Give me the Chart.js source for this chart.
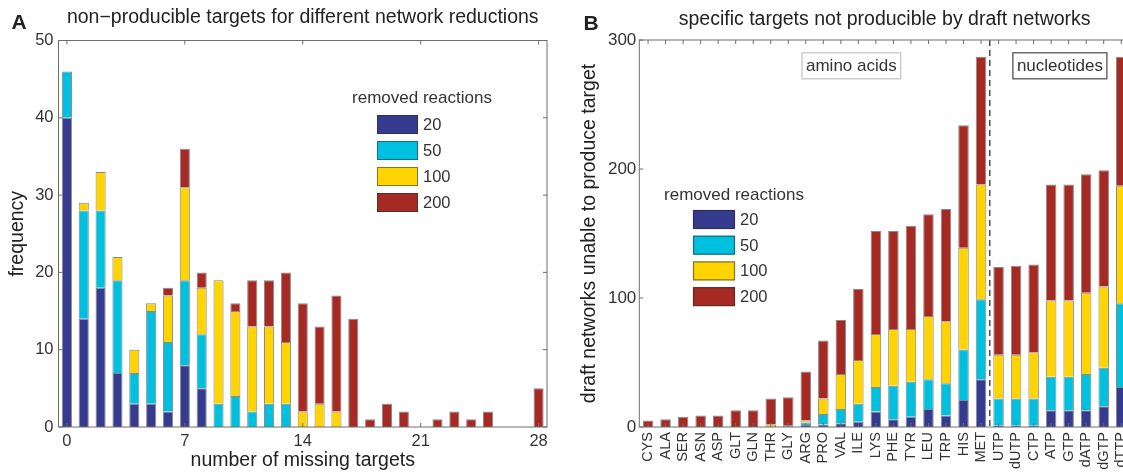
<!DOCTYPE html>
<html>
<head>
<meta charset="utf-8">
<script src="https://cdn.jsdelivr.net/npm/chart.js@4"></script>
<style>
  body { margin: 0; width: 1123px; height: 472px; overflow: hidden; background: #fff; position: relative; }
  canvas { position: absolute; top: 0; }
  #chart_a { left: 0; }
  #chart_b { left: 560px; }
</style>
</head>
<body>
<canvas id="chart_a" width="560" height="472"></canvas>
<canvas id="chart_b" width="590" height="472"></canvas>
<script>
// legend groups (number of removed reactions) and their colours
const removedReactions = ['20', '50', '100', '200'];
const groupColors = ['#353b8f', '#00c0e0', '#ffd400', '#a52a23'];

// panel A: histogram of number of missing targets
const missingTargets = ['0', '1', '2', '3', '4', '5', '6', '7', '8', '9', '10', '11', '12', '13', '14',
  '15', '16', '17', '18', '19', '20', '21', '22', '23', '24', '25', '26', '27', '28'];
const freq20 = [40, 14, 18, 7, 3, 3, 2, 8, 5, 0, 0, 0, 0, 0, 0, 0, 0, 0, 0, 0, 0, 0, 0, 0, 0, 0, 0, 0, 0];
const freq50 = [6, 14, 10, 12, 4, 12, 9, 11, 7, 3, 4, 2, 3, 3, 0, 0, 0, 0, 0, 0, 0, 0, 0, 0, 0, 0, 0, 0, 0];
const freq100 = [0, 1, 5, 3, 3, 1, 6, 12, 6, 16, 11, 11, 10, 8, 2, 3, 2, 0, 0, 0, 0, 0, 0, 0, 0, 0, 0, 0, 0];
const freq200 = [0, 0, 0, 0, 0, 0, 1, 5, 2, 0, 1, 6, 6, 9, 14, 10, 15, 14, 1, 3, 2, 0, 1, 2, 1, 2, 0, 0, 5];
const shownMissingTicks = ['0', '7', '14', '21', '28'];

// panel B: specific targets not producible
const targets = ['CYS', 'ALA', 'SER', 'ASN', 'ASP', 'GLT', 'GLN', 'THR', 'GLY', 'ARG', 'PRO', 'VAL', 'ILE', 'LYS',
  'PHE', 'TYR', 'LEU', 'TRP', 'HIS', 'MET', 'UTP', 'dUTP', 'CTP', 'ATP', 'GTP', 'dATP', 'dGTP', 'dTTP'];
const nets20 = [0, 0, 0, 0, 0, 0, 0, 0, 0, 1.5, 2, 3, 4, 12, 6, 8, 14, 9, 21, 37, 1, 1, 1, 13, 13, 13, 16, 31];
const nets50 = [0, 0, 0, 0, 0, 0, 0, 0, 1, 2, 8, 11, 14, 19, 26, 27, 23, 25, 39, 62, 21, 21, 21, 26, 26, 28, 30, 65];
const nets100 = [0, 0, 0, 0, 0, 0, 0, 2, 0, 1.5, 12, 27, 34, 41, 44, 41, 49, 48, 79, 89, 34, 34, 36, 59, 59, 63, 63, 91];
const nets200 = [5, 6, 8, 9, 9, 13, 13, 20, 22, 38, 45, 42, 55, 80, 76, 80, 79, 87, 95, 99, 68, 69, 68, 90, 90, 92, 90, 100];
const groupLabels = [{ text: 'amino acids', at: 11.6 }, { text: 'nucleotides', at: 23.5 }];

const FONT = "'Liberation Sans', Arial, Helvetica, sans-serif";
Chart.defaults.font.family = FONT;
Chart.defaults.color = '#333';

const makeSets = (series) => series.map((vals, i) => ({
  label: removedReactions[i],
  data: vals,
  backgroundColor: groupColors[i],
  borderColor: 'rgba(40,40,40,0.55)',
  borderWidth: 1,
  barPercentage: 0.6,
  categoryPercentage: 1
}));

// MATLAB style box, inward ticks, panel letter, title and legend
const matlabAxes = {
  id: 'matlabAxes',
  afterDatasetsDraw(chart, args, o) {
    const { ctx, chartArea: a, scales: { x, y } } = chart;
    ctx.save();

    if (o.separator !== undefined) {
      const sx = x.getPixelForValue(o.separator);
      ctx.strokeStyle = '#222';
      ctx.lineWidth = 1.2;
      ctx.setLineDash([6, 4]);
      ctx.beginPath();
      ctx.moveTo(sx, a.top);
      ctx.lineTo(sx, a.bottom);
      ctx.stroke();
      ctx.setLineDash([]);
    }

    ctx.strokeStyle = '#6e6e6e';
    ctx.lineWidth = 1;
    ctx.strokeRect(a.left, a.top, a.right - a.left, a.bottom - a.top);

    ctx.beginPath();
    y.ticks.forEach(t => {
      const py = y.getPixelForValue(t.value);
      ctx.moveTo(a.left, py); ctx.lineTo(a.left + 4, py);
      ctx.moveTo(a.right, py); ctx.lineTo(a.right - 4, py);
    });
    o.xTicks.forEach(v => {
      const px = x.getPixelForValue(v);
      ctx.moveTo(px, a.top); ctx.lineTo(px, a.top + 4);
      ctx.moveTo(px, a.bottom); ctx.lineTo(px, a.bottom - 4);
    });
    ctx.stroke();

    // text boxes
    (o.boxes || []).forEach(b => {
      ctx.font = '17px ' + FONT;
      const w = ctx.measureText(b.text).width + 8;
      const cx = x.getPixelForValue(b.at);
      const cy = y.getPixelForValue(b.y);
      ctx.fillStyle = '#fff';
      ctx.fillRect(cx - w / 2, cy - 13, w, 26);
      ctx.strokeStyle = b.border;
      ctx.lineWidth = 1.3;
      ctx.strokeRect(cx - w / 2, cy - 13, w, 26);
      ctx.fillStyle = '#333';
      ctx.textAlign = 'center';
      ctx.textBaseline = 'middle';
      ctx.fillText(b.text, cx, cy + 1);
    });

    // title
    ctx.fillStyle = '#222';
    ctx.textAlign = 'center';
    ctx.textBaseline = 'middle';
    ctx.font = '19.5px ' + FONT;
    ctx.fillText(o.title, (a.left + a.right) / 2, o.titleY);
    ctx.font = 'bold 21px ' + FONT;
    ctx.fillText(o.letter, o.letterX, o.letterY);

    // legend
    const L = o.legend;
    ctx.font = '17px ' + FONT;
    ctx.fillStyle = '#333';
    ctx.fillText('removed reactions', L.titleX, L.titleY);
    removedReactions.forEach((lab, i) => {
      const top = L.top + i * L.step;
      ctx.fillStyle = groupColors[i];
      ctx.fillRect(L.x, top, L.w, L.h);
      ctx.strokeStyle = 'rgba(40,40,40,0.55)';
      ctx.strokeRect(L.x + 0.5, top + 0.5, L.w - 1, L.h - 1);
      ctx.fillStyle = '#333';
      ctx.textAlign = 'left';
      ctx.font = '16.5px ' + FONT;
      ctx.fillText(lab, L.x + L.w + 5, top + L.h / 2 + 1);
    });
    ctx.restore();
  }
};

new Chart(document.getElementById('chart_a'), {
  type: 'bar',
  data: { labels: missingTargets, datasets: makeSets([freq20, freq50, freq100, freq200]) },
  plugins: [matlabAxes],
  options: {
    responsive: false,
    animation: false,
    layout: { padding: { left: 0, top: 40.5, right: 13, bottom: 0 } },
    scales: {
      x: {
        stacked: true,
        grid: { display: false, drawTicks: false },
        border: { display: false },
        ticks: {
          autoSkip: false, maxRotation: 0, padding: 5, font: { size: 16.5 }, color: '#333',
          callback: function (val) {
            const lab = this.getLabelForValue(val);
            return shownMissingTicks.includes(lab) ? lab : '';
          }
        },
        title: { display: true, text: 'number of missing targets', font: { size: 19.5 }, color: '#222', padding: { top: 0, bottom: 0 } },
        afterFit: s => { s.height = 45; }
      },
      y: {
        stacked: true,
        min: 0, max: 50,
        grid: { display: false, drawTicks: false },
        border: { display: false },
        ticks: { stepSize: 10, padding: 5, font: { size: 16.5 }, color: '#333' },
        title: { display: true, text: 'frequency', font: { size: 19.5 }, color: '#222', padding: { top: 6, bottom: 0 } },
        afterFit: s => { s.width = 58.5; }
      }
    },
    plugins: {
      legend: { display: false },
      tooltip: { enabled: false },
      matlabAxes: {
        xTicks: shownMissingTicks.map(t => missingTargets.indexOf(t)),
        title: 'non\u2212producible targets for different network reductions',
        titleY: 18,
        letter: 'A', letterX: 19, letterY: 23,
        legend: { titleX: 422, titleY: 98, x: 377, w: 41, h: 19, top: 115, step: 26 }
      }
    }
  }
});

new Chart(document.getElementById('chart_b'), {
  type: 'bar',
  data: { labels: targets, datasets: makeSets([nets20, nets50, nets100, nets200]) },
  plugins: [matlabAxes],
  options: {
    responsive: false,
    animation: false,
    layout: { padding: { left: 0, top: 40, right: 20, bottom: 0 } },
    scales: {
      x: {
        stacked: true,
        grid: { display: false, drawTicks: false },
        border: { display: false },
        ticks: { autoSkip: false, minRotation: 90, maxRotation: 90, padding: 5, font: { size: 14.5 }, color: '#333' },
        afterFit: s => { s.height = 45; }
      },
      y: {
        stacked: true,
        min: 0, max: 300,
        grid: { display: false, drawTicks: false },
        border: { display: false },
        ticks: { stepSize: 100, padding: 3, font: { size: 17 }, color: '#333' },
        title: { display: true, text: 'draft networks unable to produce target', font: { size: 19.5 }, color: '#222', padding: { top: 18, bottom: 0 } },
        afterFit: s => { s.width = 79.3; }
      }
    },
    plugins: {
      legend: { display: false },
      tooltip: { enabled: false },
      matlabAxes: {
        xTicks: targets.map((t, i) => i),
        separator: 19.5,
        boxes: [
          { text: groupLabels[0].text, at: groupLabels[0].at, y: 280, border: '#c8c8c8' },
          { text: groupLabels[1].text, at: groupLabels[1].at, y: 280, border: '#555' }
        ],
        title: 'specific targets not producible by draft networks',
        titleY: 20,
        letter: 'B', letterX: 31, letterY: 24,
        legend: { titleX: 174, titleY: 195, x: 133, w: 42, h: 19, top: 210, step: 25.7 }
      }
    }
  }
});
</script>
</body>
</html>
